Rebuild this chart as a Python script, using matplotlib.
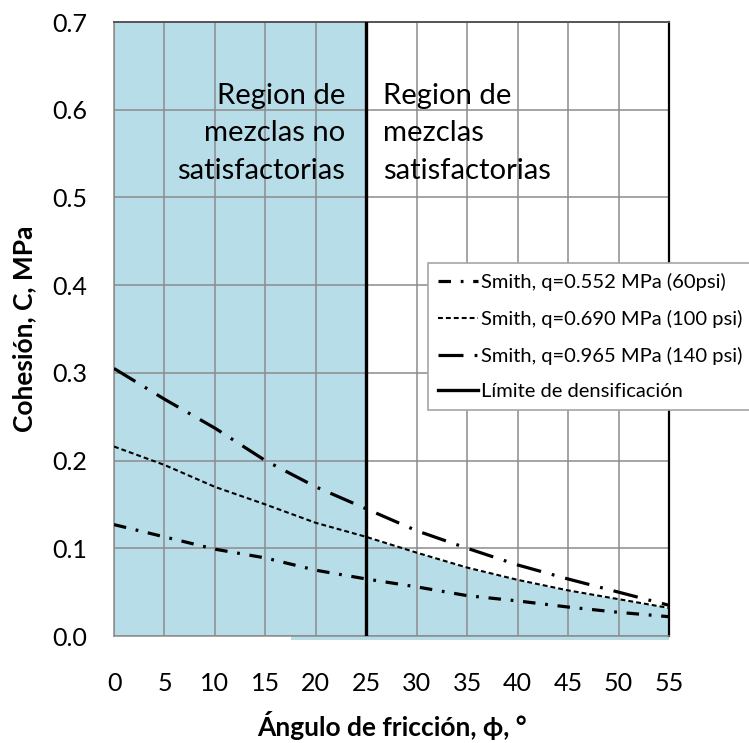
"""Cohesion vs friction angle chart (Smith criterion) with densification limit."""
import numpy as np
import matplotlib
matplotlib.use("Agg")
import matplotlib.pyplot as plt

plt.rcParams['font.family'] = ['Lato', 'DejaVu Sans']
plt.rcParams['lines.scale_dashes'] = False

# data
phi = [0, 5, 10, 15, 20, 25, 30, 35, 40, 45, 50, 55]
c_552 = [0.127, 0.113, 0.099, 0.089, 0.075, 0.065, 0.056, 0.046, 0.040, 0.033, 0.027, 0.022]
c_690 = [0.216, 0.195, 0.170, 0.150, 0.129, 0.113, 0.095, 0.078, 0.064, 0.052, 0.042, 0.032]
c_965 = [0.305, 0.270, 0.237, 0.200, 0.170, 0.145, 0.120, 0.100, 0.081, 0.065, 0.050, 0.035]
phi_limit = 25
labels = ["Smith, q=0.552 MPa (60psi)",
          "Smith, q=0.690 MPa (100 psi)",
          "Smith, q=0.965 MPa (140 psi)",
          "Límite de densificación"]
xticks = list(range(0, 60, 5))
yticks = [0.0, 0.1, 0.2, 0.3, 0.4, 0.5, 0.6, 0.7]

FILL = "#B7DDE8"
GRID = "#8C8C8C"

fig = plt.figure(figsize=(7.49, 7.43), dpi=100)
renderer = fig.canvas.get_renderer()


def size_for(text, width_px, weight="normal"):
    """font size (pt) that gives the text a given pixel width"""
    t = fig.text(0, 0, text, fontsize=20, fontweight=weight)
    w = t.get_window_extent(renderer).width
    t.remove()
    return 20 * width_px / w


FS_MAIN = size_for("satisfactorias", 168)
FS_TICK = size_for("0.7", 35)
FS_LEG = 0.5 * (size_for(labels[3], 201) + size_for(labels[2], 263))
FS_LAB = size_for("Ángulo de fricción, ϕ, °", 270, "bold")

ax = fig.add_axes([114/749, 107/743, 555/749, 614/743])
ax.set_xlim(0, 55)
ax.set_ylim(0, 0.7)

# shaded "not satisfactory" region
ax.axvspan(0, phi_limit, color=FILL, lw=0, zorder=0)
x = np.array(phi, dtype=float)
m = x >= phi_limit
ax.fill_between(x[m], 0, np.array(c_690)[m], color=FILL, lw=0, zorder=0)
ax.fill_between([17.5, 55], -0.005, 0, color=FILL, lw=0, clip_on=False, zorder=0)

ax.set_xticks(xticks)
ax.set_yticks(yticks)
ax.set_yticklabels([f"{v:.1f}" for v in yticks])
ax.grid(True, color=GRID, lw=1.1, zorder=1)
ax.set_axisbelow(True)
ax.tick_params(length=0, labelsize=FS_TICK)
ax.tick_params(axis='y', pad=19)
ax.tick_params(axis='x', pad=26)
for s in ("left", "bottom"):
    ax.spines[s].set_color(GRID)
    ax.spines[s].set_linewidth(1.1)
ax.spines["top"].set_color("#555555")
ax.spines["top"].set_linewidth(1.4)
ax.spines["right"].set_color("black")
ax.spines["right"].set_linewidth(1.6)

l1, = ax.plot(phi, c_552, color="black", lw=2.3, dashes=(9, 7, 2, 7),
              dash_capstyle='butt', label=labels[0], zorder=3)
l2, = ax.plot(phi, c_690, color="black", lw=1.5, dashes=(3.5, 2.2),
              label=labels[1], zorder=3)
l3, = ax.plot(phi, c_965, color="black", lw=2.3, dashes=(18, 8, 2, 8),
              dash_capstyle='butt', label=labels[2], zorder=3)
l4 = ax.axvline(phi_limit, color="black", lw=2.4, label=labels[3], zorder=3)

ax.text(22.9, 0.5729, "Region de\nmezclas no\nsatisfactorias", ha="right",
        va="center", fontsize=FS_MAIN, linespacing=1.55, zorder=4)
ax.text(26.7, 0.5729, "Region de\nmezclas\nsatisfactorias", ha="left",
        va="center", fontsize=FS_MAIN, linespacing=1.55, zorder=4)

leg = ax.legend(handles=[l1, l2, l3, l4], loc="upper left",
                bbox_to_anchor=(0.566, 0.6075), borderaxespad=0,
                fontsize=FS_LEG, fancybox=False, framealpha=1, edgecolor="#A6A6A6",
                handlelength=2.0, handletextpad=0.15, labelspacing=0.93,
                borderpad=0.5)
leg.get_frame().set_linewidth(1.2)
leg.set_zorder(5)

ax.set_xlabel("Ángulo de fricción, ϕ, °", fontsize=FS_LAB, fontweight="bold",
              va="center")
ax.xaxis.set_label_coords(0.5, (636 - 726) / 614)
ax.set_ylabel("Cohesión, C, MPa", fontsize=FS_LAB, fontweight="bold", va="center")
ax.yaxis.set_label_coords((24 - 114) / 555, 0.5)

fig.savefig("out.png", dpi=100)
